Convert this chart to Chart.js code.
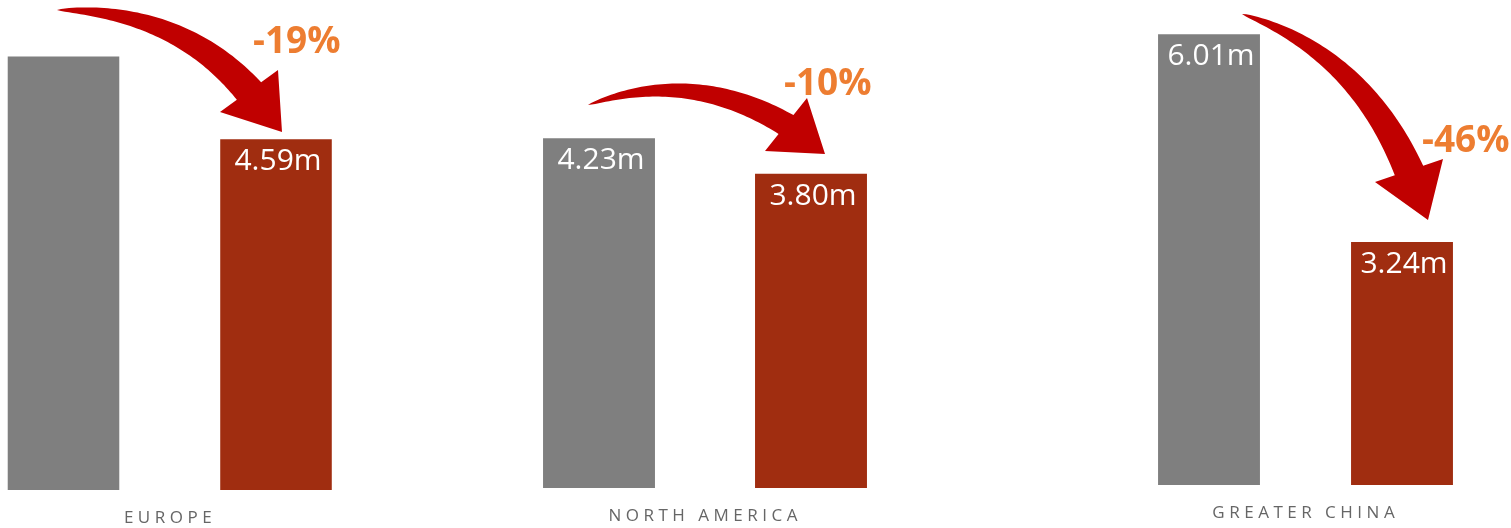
<!DOCTYPE html>
<html>
<head>
<meta charset="utf-8">
<script src="https://cdn.jsdelivr.net/npm/chart.js@4.4.1/dist/chart.umd.min.js"></script>
<style>
  html, body { margin: 0; padding: 0; background: #ffffff; width: 1511px; height: 528px; overflow: hidden; position: relative; }
  canvas { position: absolute; top: 0; }
</style>
</head>
<body>
<canvas id="c0"></canvas>
<canvas id="c1"></canvas>
<canvas id="c2"></canvas>
<script>
// ---- data ----
const categories   = ['EUROPE', 'NORTH AMERICA', 'GREATER CHINA'];
const beforeValues = [5.67, 4.23, 6.01];
const afterValues  = [4.59, 3.80, 3.24];
const beforeLabels = ['', '4.23m', '6.01m'];
const afterLabels  = ['4.59m', '3.80m', '3.24m'];
const changeLabels = ['-19%', '-10%', '-46%'];

// ---- layout / style (not data) ----
const panels = [
  { left: -50, width: 500, pad: { left: 7.25, right: 67.75, top: 0, bottom: 38 }, ymax: 6.41, barPct: 0.525,
    arrow: { tail: [57, 10], ctrl: [178, 10], wingA: [220, 112], wingB: [278, 70], tip: [282, 132], body: 30 },
    pct: [253, 53] },
  { left: 460, width: 520, pad: { left: 33, right: 63, top: 0, bottom: 40 }, ymax: 5.90, barPct: 0.528,
    arrow: { tail: [588, 105], ctrl: [690, 68], wingA: [765, 151], wingB: [807, 98], tip: [825, 154], body: 24 },
    pct: [784, 95] },
  { left: 1000, width: 511, pad: { left: 112.5, right: 12.5, top: 0, bottom: 43 }, ymax: 6.465, barPct: 0.528,
    arrow: { tail: [1242, 14], ctrl: [1358, 52], wingA: [1375, 182], wingB: [1443, 159], tip: [1428, 220], body: 30 },
    pct: [1422, 152] }
];
const GREY = '#7F7F7F', RUST = '#A02D10', ARROW = '#C00000', ORANGE = '#ED7D31', LABEL = '#666666';

function drawArrow(ctx, a, offX) {
  const P = (p) => [p[0] - offX, p[1]];
  const P0 = P(a.tail), C = P(a.ctrl), A = P(a.wingA), B = P(a.wingB), T = P(a.tip);
  const P1 = [(A[0] + B[0]) / 2, (A[1] + B[1]) / 2];
  const N = 60;
  const sideA = [], sideB = [];
  let bx = A[0] - B[0], by = A[1] - B[1];
  const bl = Math.hypot(bx, by); bx /= bl; by /= bl;
  for (let i = 0; i <= N; i++) {
    const t = i / N, u = 1 - t;
    const x = u * u * P0[0] + 2 * u * t * C[0] + t * t * P1[0];
    const y = u * u * P0[1] + 2 * u * t * C[1] + t * t * P1[1];
    const dx = 2 * u * (C[0] - P0[0]) + 2 * t * (P1[0] - C[0]);
    const dy = 2 * u * (C[1] - P0[1]) + 2 * t * (P1[1] - C[1]);
    const dl = Math.hypot(dx, dy) || 1;
    let nx = -dy / dl, ny = dx / dl;
    if (nx * bx + ny * by < 0) { nx = -nx; ny = -ny; }
    const k = Math.max(0, (t - 0.85) / 0.15);
    nx = nx * (1 - k) + bx * k; ny = ny * (1 - k) + by * k;
    const nl = Math.hypot(nx, ny); nx /= nl; ny /= nl;
    const w = a.body * Math.pow(t, 0.65) / 2;
    sideA.push([x + nx * w, y + ny * w]);
    sideB.push([x - nx * w, y - ny * w]);
  }
  ctx.save();
  ctx.fillStyle = ARROW;
  ctx.beginPath();
  ctx.moveTo(sideA[0][0], sideA[0][1]);
  for (const p of sideA) ctx.lineTo(p[0], p[1]);
  ctx.lineTo(A[0], A[1]);
  ctx.lineTo(T[0], T[1]);
  ctx.lineTo(B[0], B[1]);
  for (let i = sideB.length - 1; i >= 0; i--) ctx.lineTo(sideB[i][0], sideB[i][1]);
  ctx.closePath();
  ctx.fill();
  ctx.restore();
}

const annotate = {
  id: 'annotate',
  afterDatasetsDraw(chart) {
    const i = chart.options.plugins.annotate.index;
    const panel = panels[i];
    const ctx = chart.ctx;
    const offX = panel.left;
    const texts = [beforeLabels[i], afterLabels[i]];
    ctx.save();
    ctx.font = '30px "Open Sans"';
    ctx.fillStyle = '#FFFFFF';
    ctx.textAlign = 'center';
    ctx.textBaseline = 'alphabetic';
    [0, 1].forEach(d => {
      const bar = chart.getDatasetMeta(d).data[0];
      if (texts[d]) ctx.fillText(texts[d], bar.x + 2, bar.y + 31);
    });
    ctx.restore();
    drawArrow(ctx, panel.arrow, offX);
    ctx.save();
    ctx.font = 'bold 37px "Open Sans"';
    ctx.fillStyle = ORANGE;
    ctx.textAlign = 'left';
    ctx.textBaseline = 'alphabetic';
    ctx.fillText(changeLabels[i], panel.pct[0] - offX, panel.pct[1]);
    ctx.restore();
    const xs = chart.scales.x;
    const cx = xs.getPixelForValue(0);
    const spacing = 4.5;
    ctx.save();
    ctx.font = '17px "Open Sans"';
    ctx.fillStyle = LABEL;
    ctx.letterSpacing = spacing + 'px';
    ctx.textAlign = 'left';
    ctx.textBaseline = 'alphabetic';
    const label = chart.data.labels[0];
    const w = ctx.measureText(label).width - spacing;
    ctx.fillText(label, cx - w / 2 - 2, chart.chartArea.bottom + 33);
    ctx.restore();
  }
};

panels.forEach((panel, i) => {
  const cv = document.getElementById('c' + i);
  cv.width = panel.width; cv.height = 528;
  cv.style.left = panel.left + 'px';
  cv.style.width = panel.width + 'px'; cv.style.height = '528px';
  new Chart(cv, {
    type: 'bar',
    data: {
      labels: [categories[i]],
      datasets: [
        { data: [beforeValues[i]], backgroundColor: GREY, barPercentage: panel.barPct, categoryPercentage: 1 },
        { data: [afterValues[i]],  backgroundColor: RUST, barPercentage: panel.barPct, categoryPercentage: 1 }
      ]
    },
    options: {
      responsive: false,
      animation: false,
      devicePixelRatio: 1,
      layout: { padding: panel.pad },
      plugins: { legend: { display: false }, tooltip: { enabled: false }, annotate: { index: i } },
      scales: {
        x: { display: false },
        y: { display: false, min: 0, max: panel.ymax }
      }
    },
    plugins: [annotate]
  });
});
</script>
</body>
</html>
